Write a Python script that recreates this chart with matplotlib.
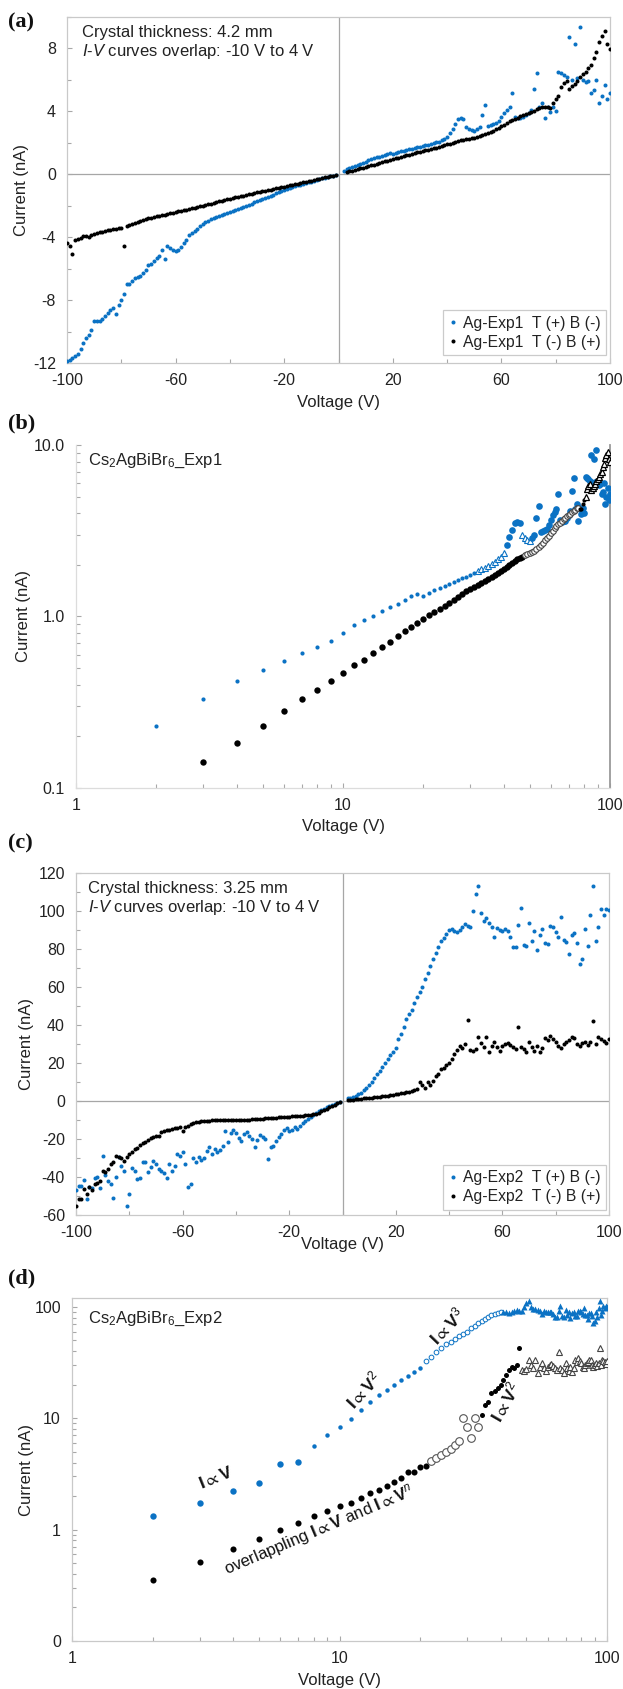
import numpy as np
import matplotlib
matplotlib.use('Agg')
import matplotlib.pyplot as plt
from matplotlib.ticker import FixedLocator, FixedFormatter, NullFormatter

plt.rcParams['font.family'] = ['Liberation Sans', 'DejaVu Sans']
plt.rcParams['mathtext.fontset'] = 'custom'
plt.rcParams['mathtext.rm'] = 'Liberation Sans'
plt.rcParams['mathtext.it'] = 'Liberation Sans:italic'
plt.rcParams['mathtext.bf'] = 'Liberation Sans:bold'
plt.rcParams['mathtext.fallback'] = 'stixsans'
plt.rcParams['axes.unicode_minus'] = False

nan = np.nan
# ---------------- data ----------------
voltage_pos = np.arange(1, 101)          # 1 ... 100 V
voltage_neg = -np.arange(1, 101)         # -1 ... -100 V

# Exp1  T(+)B(-)  (blue)
exp1_blue_pos = [nan, 0.23, 0.33, 0.42, 0.49, 0.55, 0.61, 0.66, 0.72, 0.80,
                 0.89, 0.95, 1.01, 1.07, 1.13, 1.19, 1.25, 1.32, 1.35, 1.31,
                 1.38, 1.43, 1.47, 1.51, 1.55, 1.59, 1.63, 1.67, 1.71, 1.75,
                 1.79, 1.84, 1.88, 1.93, 1.98, 2.03, 2.08, 2.15, 2.23, 2.35,
                 2.6, 2.9, 3.2, 3.5, 3.55, 3.5, 3.0, 2.85, 2.8, 2.75,
                 2.85, 3.0, 3.75, 4.38, 3.1, 3.15, 3.2, 3.25, 3.4, 3.64,
                 3.9, 4.06, 4.25, 5.19, 3.64, 3.55, 3.6, 3.62, 3.75, 3.9,
                 4.1, 5.4, 6.43, 4.25, 4.55, 3.6, 4.3, 3.95, 4.3, 4.0,
                 6.5, 6.45, 6.3, 6.2, 8.7, 6.0, 8.3, 6.1, 9.35, 5.97,
                 5.84, 5.9, 5.16, 5.33, 5.97, 4.53, 4.97, 5.65, 4.8, 5.19]
exp1_blue_neg = [-0.04, -0.08, -0.12, -0.17, -0.21, -0.26, -0.31, -0.36, -0.41, -0.46,
                 -0.51, -0.56, -0.61, -0.66, -0.71, -0.76, -0.82, -0.88, -0.94, -1.0,
                 -1.08, -1.15, -1.22, -1.29, -1.36, -1.43, -1.5, -1.58, -1.65, -1.72,
                 -1.79, -1.86, -1.93, -2.0, -2.07, -2.14, -2.21, -2.28, -2.35, -2.4,
                 -2.45, -2.52, -2.58, -2.65, -2.72, -2.8, -2.87, -2.95, -3.05, -3.15,
                 -3.3, -3.45, -3.58, -3.72, -3.85, -4.15, -4.35, -4.6, -4.8, -4.85,
                 -4.8, -4.7, -4.55, -5.4, -4.8, -5.2, -5.35, -5.5, -5.7, -5.8,
                 -6.1, -6.3, -6.45, -6.55, -6.6, -6.8, -7.0, -7.0, -7.6, -8.0,
                 -8.3, -8.9, -8.5, -8.6, -8.8, -9.0, -9.2, -9.3, -9.3, -9.3,
                 -9.9, -10.2, -10.4, -10.7, -11.1, -11.4, -11.55, -11.7, -11.8, -11.9]
# Exp1  T(-)B(+)  (black)
exp1_black_pos = [nan, nan, 0.141, 0.183, 0.229, 0.28, 0.33, 0.375, 0.42, 0.47,
                  0.52, 0.56, 0.61, 0.665, 0.71, 0.77, 0.82, 0.87, 0.92, 0.97,
                  1.02, 1.06, 1.1, 1.15, 1.2, 1.25, 1.3, 1.35, 1.4, 1.44,
                  1.48, 1.52, 1.56, 1.6, 1.65, 1.7, 1.75, 1.8, 1.85, 1.9,
                  1.95, 2.0, 2.05, 2.1, 2.15, 2.2, 2.23, 2.27, 2.3, 2.33,
                  2.37, 2.42, 2.47, 2.53, 2.6, 2.7, 2.78, 2.85, 2.95, 3.05,
                  3.15, 3.27, 3.38, 3.47, 3.53, 3.6, 3.68, 3.76, 3.84, 3.9,
                  3.97, 4.05, 4.12, 4.2, 4.27, 4.3, 4.25, 4.22, 4.5, 4.8,
                  5.0, 5.56, 5.8, 5.95, 5.45, 5.6, 5.75, 5.95, 6.2, 6.35,
                  6.5, 6.75, 6.95, 7.4, 7.8, 8.4, 8.8, 9.1, 8.3, 7.96]
exp1_black_neg = [-0.04, -0.08, -0.12, -0.16, -0.2, -0.24, -0.28, -0.32, -0.36, -0.4,
                  -0.44, -0.48, -0.51, -0.55, -0.59, -0.63, -0.67, -0.7, -0.74, -0.78,
                  -0.82, -0.86, -0.89, -0.93, -0.97, -1.0, -1.04, -1.08, -1.12, -1.15,
                  -1.19, -1.23, -1.27, -1.31, -1.35, -1.39, -1.43, -1.47, -1.51, -1.55,
                  -1.6, -1.64, -1.69, -1.73, -1.78, -1.82, -1.87, -1.91, -1.96, -2.0,
                  -2.04, -2.08, -2.12, -2.16, -2.2, -2.24, -2.28, -2.32, -2.36, -2.4,
                  -2.44, -2.48, -2.52, -2.56, -2.6, -2.64, -2.68, -2.72, -2.76, -2.8,
                  -2.86, -2.92, -2.98, -3.04, -3.1, -3.16, -3.22, -3.28, -4.55, -3.4,
                  -3.42, -3.45, -3.48, -3.52, -3.55, -3.6, -3.65, -3.7, -3.75, -3.8,
                  -3.85, -4.0, -3.9, -3.95, -4.05, -4.1, -4.15, -5.05, -4.55, -4.35]

# Exp2  T(+)B(-)  (blue)
exp2_blue_pos = [nan, 1.32, 1.75, 2.21, 2.6, 3.85, 4.07, 5.67, 7.08, 8.4,
                 9.9, 11.9, 14.0, 16.0, 17.8, 20.0, 22.0, 24.0, 26.0, 28.0,
                 32.5, 35.5, 39.0, 43.0, 46.0, 48.0, 51.5, 55.0, 57.5, 60.0,
                 64.0, 67.5, 71.0, 75.0, 78.0, 81.0, 84.0, 86.0, 88.0, 90.0,
                 90.5, 89.5, 88.8, 90.0, 91.5, 93.0, 92.0, 91.5, 100.0, 108.8,
                 113.0, 99.0, 95.0, 96.5, 93.8, 91.7, 86.1, 91.0, 90.0, 89.5,
                 90.5, 89.5, 86.1, 81.1, 81.0, 92.6, 101.8, 82.0, 81.5, 93.8,
                 84.3, 89.6, 79.7, 87.3, 90.5, 83.0, 82.5, 92.1, 91.5, 89.1,
                 86.1, 97.0, 84.7, 83.8, 77.2, 87.3, 88.4, 82.9, 72.3, 74.6,
                 90.3, 81.5, 97.9, 113.2, 84.1, 91.4, 101.0, 97.9, 101.0, 100.5]
exp2_blue_neg = [-0.5, -1.0, -1.5, -2.1, -2.7, -3.3, -4.0, -4.7, -5.5, -6.3,
                 -7.2, -8.3, -9.5, -10.5, -11.5, -13.0, -14.5, -13.5, -15.5, -16.0,
                 -14.0, -15.5, -17.5, -19.0, -21.0, -23.5, -24.0, -30.5, -20.0, -19.0,
                 -18.0, -20.5, -24.0, -20.0, -18.5, -16.5, -17.5, -21.0, -19.5, -17.0,
                 -15.5, -17.0, -21.5, -16.0, -23.5, -26.0, -27.0, -25.0, -28.0, -24.0,
                 -26.5, -30.0, -31.0, -29.5, -32.0, -30.0, -43.5, -45.5, -33.0, -27.0,
                 -29.0, -28.0, -34.0, -37.0, -33.0, -40.5, -38.0, -37.0, -36.0, -33.0,
                 -31.5, -34.5, -37.5, -32.0, -32.0, -40.5, -41.0, -37.0, -35.0, -49.0,
                 -55.0, -37.0, -34.0, -29.5, -40.0, -51.0, -43.5, -42.0, -39.0, -29.0,
                 -46.0, -40.0, -40.5, -46.0, -45.0, -51.5, -41.5, -44.5, -44.5, -47.0]
# Exp2  T(-)B(+)  (black)
exp2_black_pos = [nan, 0.35, 0.51, 0.675, 0.83, 1.0, 1.156, 1.33, 1.46, 1.62,
                  1.75, 1.93, 2.11, 2.29, 2.47, 2.69, 2.88, 3.3, 3.26, 3.67,
                  3.72, 4.1, 4.4, 4.7, 5.0, 5.3, 5.7, 6.3, 10.0, 8.4,
                  6.6, 10.0, 8.4, 10.7, 13.2, 14.1, 16.8, 17.5, 18.7, 20.0,
                  22.0, 24.6, 27.0, 29.0, 28.0, 30.0, 42.5, 27.0, 26.5, 27.5,
                  33.5, 30.3, 28.5, 33.5, 25.6, 29.1, 31.0, 28.2, 26.5, 29.1,
                  30.0, 30.5, 29.5, 28.2, 27.3, 39.2, 28.2, 27.3, 25.6, 31.0,
                  28.2, 26.5, 29.0, 26.0, 28.0, 33.0, 32.0, 34.4, 32.7, 31.0,
                  29.0, 28.0, 30.0, 31.0, 32.0, 33.6, 33.0, 30.0, 29.0, 30.3,
                  31.0, 29.5, 31.0, 42.3, 29.8, 33.5, 32.7, 31.7, 30.5, 32.7]
exp2_black_neg = [-0.6, -1.2, -1.9, -2.6, -3.3, -4.0, -4.8, -5.5, -6.2, -6.7,
                  -7.0, -7.3, -7.5, -7.6, -7.7, -7.8, -7.9, -8.0, -8.1, -8.2,
                  -8.3, -8.4, -8.5, -8.6, -8.7, -8.8, -9.0, -9.1, -9.2, -9.3,
                  -9.5, -9.6, -9.6, -9.7, -9.8, -9.8, -9.9, -10.0, -10.0, -10.0,
                  -10.0, -10.0, -10.0, -10.0, -10.0, -10.1, -10.1, -10.2, -10.2, -10.3,
                  -10.4, -10.5, -10.7, -11.0, -11.2, -11.6, -12.0, -13.0, -13.5, -15.6,
                  -13.5, -14.0, -14.4, -14.7, -15.0, -15.2, -15.6, -16.5, -18.2, -18.5,
                  -19.0, -19.5, -20.5, -21.8, -22.3, -23.0, -24.5, -25.3, -27.0, -28.0,
                  -29.6, -31.4, -30.0, -29.6, -28.8, -32.3, -33.2, -36.0, -37.5, -36.7,
                  -42.0, -43.0, -43.7, -47.0, -45.4, -49.0, -46.5, -51.6, -51.6, -55.0]

legend_exp1 = ['Ag-Exp1  T (+) B (-)', 'Ag-Exp1  T (-) B (+)']
legend_exp2 = ['Ag-Exp2  T (+) B (-)', 'Ag-Exp2  T (-) B (+)']
lin_xticks = [-100, -60, -20, 20, 60, 100]
lin_xminor = [-80, -40, 0, 40, 80]

BLUE = '#0b72c4'
BLACK = '#000000'
FRAME = '#c9c9c9'
TXT = '#222222'
TICK_FS = 11.5
LAB_FS = 12
ANN_FS = 12

W, H = 623, 1689
fig = plt.figure(figsize=(W / 100, H / 100), dpi=100)


def add_ax(l, t, r, b):
    return fig.add_axes([l / W, 1 - b / H, (r - l) / W, (b - t) / H])


def style(ax, frame_color=FRAME):
    for s in ax.spines.values():
        s.set_color(frame_color)
        s.set_linewidth(0.9)
    ax.tick_params(which='both', direction='in', color='#a8a8a8', width=0.8,
                   labelsize=TICK_FS, labelcolor=TXT)
    ax.tick_params(which='major', length=3.5)
    ax.tick_params(which='minor', length=3.0)
    ax.tick_params(axis='y', which='both', pad=8)
    ax.tick_params(axis='x', which='both', pad=7)


def labels(ax, t, b, l, xlab_px, ylab_px):
    ax.set_xlabel('Voltage (V)', fontsize=LAB_FS, color=TXT)
    ax.set_ylabel('Current (nA)', fontsize=LAB_FS, color=TXT)
    h = b - t
    ax.xaxis.label.set_va('center')
    ax.yaxis.label.set_va('center')
    wpx = ax.get_position().width * W
    ax.xaxis.set_label_coords(0.5, -(xlab_px - b) / h)
    ax.yaxis.set_label_coords(-(l - ylab_px) / wpx, 0.5)


def panel_label(txt, y_px):
    fig.text(8 / W, 1 - y_px / H, txt, family=['Liberation Serif'], weight='bold',
             fontsize=16, ha='left', va='center', color='#111111')


def add_legend(ax, anchor):
    lg = ax.legend(loc='lower right', bbox_to_anchor=anchor, borderaxespad=0,
                   fontsize=11.3, frameon=True, fancybox=False, handlelength=0.5,
                   handletextpad=0.4, borderpad=0.35, labelspacing=0.25)
    lg.get_frame().set_edgecolor('#bfbfbf')
    lg.get_frame().set_linewidth(0.9)
    for t in lg.get_texts():
        t.set_color(TXT)


# ---------------- (a) ----------------
ax = add_ax(67, 17, 610, 363)
ax.axhline(0, color='#a6a6a6', lw=0.9, zorder=1)
ax.axvline(0, color='#a6a6a6', lw=0.9, zorder=1)
ax.plot(np.r_[voltage_neg, voltage_pos], np.r_[exp1_blue_neg, exp1_blue_pos], 'o',
        ms=2.9, color=BLUE, mec='none', label=legend_exp1[0], zorder=3)
ax.plot(np.r_[voltage_neg, voltage_pos], np.r_[exp1_black_neg, exp1_black_pos], 'o',
        ms=2.9, color=BLACK, mec='none', label=legend_exp1[1], zorder=4)
ax.set_xlim(-100, 100)
ax.set_ylim(-12, 10)
ax.xaxis.set_major_locator(FixedLocator(lin_xticks))
ax.xaxis.set_minor_locator(FixedLocator(lin_xminor))
ax.yaxis.set_major_locator(FixedLocator([-12, -8, -4, 0, 4, 8]))
ax.yaxis.set_minor_locator(FixedLocator([-10, -6, -2, 2, 6, 10]))
style(ax)
labels(ax, 17, 363, 67, 403, 22)
ax.text(0.027, 0.955, 'Crystal thickness: 4.2 mm', transform=ax.transAxes,
        fontsize=ANN_FS, color=TXT, va='center')
ax.text(0.027, 0.90, r'$\mathit{I}$-$\mathit{V}$ curves overlap: -10 V to 4 V',
        transform=ax.transAxes, fontsize=ANN_FS, color=TXT, va='center')
add_legend(ax, (0.993, 0.022))
panel_label('(a)', 22)

# ---------------- (b) ----------------
vp = voltage_pos
ax = add_ax(76, 445, 610, 788)
ax.set_xscale('log')
ax.set_yscale('log')
bp = np.array(exp1_blue_pos)
kp = np.array(exp1_black_pos)
m_small = (vp <= 31)
m_hol = ((vp >= 32) & (vp <= 40)) | ((vp >= 47) & (vp <= 50))
m_big = ((vp >= 41) & (vp <= 46)) | (vp >= 51)
ax.plot(vp[m_small], bp[m_small], 'o', ms=3.0, color=BLUE, mec='none', zorder=3)
ax.plot(vp[m_hol], bp[m_hol], '^', ms=4.0, mfc='white', mec=BLUE, mew=0.8, zorder=3)
ax.plot(vp[m_big], bp[m_big], 'o', ms=4.8, color=BLUE, mec='none', zorder=3)
k1 = (vp <= 47)
k2 = (vp >= 48) & (vp <= 76)
k3 = (vp >= 77) & (vp <= 80)
k4 = (vp >= 81)
ax.plot(vp[k1], kp[k1], 'o', ms=4.6, color=BLACK, mec='none', zorder=4)
ax.plot(vp[k2], kp[k2], 'o', ms=4.0, mfc='white', mec='#444444', mew=0.8, zorder=4)
ax.plot(vp[k3], kp[k3], 'o', ms=3.0, color=BLACK, mec='none', zorder=4)
ax.plot(vp[k4], kp[k4], '^', ms=4.0, mfc='white', mec=BLACK, mew=0.9, zorder=4)
ax.set_xlim(1, 100)
ax.set_ylim(0.1, 10)
ax.xaxis.set_major_locator(FixedLocator([1, 10, 100]))
ax.xaxis.set_major_formatter(FixedFormatter(['1', '10', '100']))
ax.yaxis.set_major_locator(FixedLocator([0.1, 1, 10]))
ax.yaxis.set_major_formatter(FixedFormatter(['0.1', '1.0', '10.0']))
mins = [m * d for d in (1, 10) for m in range(2, 10)]
ax.xaxis.set_minor_locator(FixedLocator(mins))
ax.yaxis.set_minor_locator(FixedLocator([m * d for d in (0.1, 1) for m in range(2, 10)]))
ax.xaxis.set_minor_formatter(NullFormatter())
ax.yaxis.set_minor_formatter(NullFormatter())
style(ax, '#dcdcdc')
ax.spines['top'].set_visible(False)
ax.spines['right'].set_color('#9a9a9a')
ax.spines['right'].set_linewidth(1.3)
labels(ax, 445, 788, 76, 827, 24)
ax.text(0.023, 0.955, r'Cs$_2$AgBiBr$_6$_Exp1', transform=ax.transAxes,
        fontsize=ANN_FS, color=TXT, va='center')
panel_label('(b)', 423)

# ---------------- (c) ----------------
ax = add_ax(76, 873, 609, 1215)
ax.axhline(0, color='#a6a6a6', lw=0.9, zorder=1)
ax.axvline(0, color='#a6a6a6', lw=0.9, zorder=1)
ax.plot(np.r_[voltage_neg, voltage_pos], np.r_[exp2_blue_neg, exp2_blue_pos], 'o',
        ms=2.9, color=BLUE, mec='none', label=legend_exp2[0], zorder=3)
ax.plot(np.r_[voltage_neg, voltage_pos], np.r_[exp2_black_neg, exp2_black_pos], 'o',
        ms=2.9, color=BLACK, mec='none', label=legend_exp2[1], zorder=4)
ax.set_xlim(-100, 100)
ax.set_ylim(-60, 120)
ax.xaxis.set_major_locator(FixedLocator(lin_xticks))
ax.xaxis.set_minor_locator(FixedLocator(lin_xminor))
ax.yaxis.set_major_locator(FixedLocator(list(range(-60, 121, 20))))
ax.yaxis.set_minor_locator(FixedLocator(list(range(-50, 120, 20))))
style(ax)
labels(ax, 873, 1215, 76, 1245, 26)
ax.text(0.023, 0.955, 'Crystal thickness: 3.25 mm', transform=ax.transAxes,
        fontsize=ANN_FS, color=TXT, va='center')
ax.text(0.023, 0.90, r'$\mathit{I}$-$\mathit{V}$ curves overlap: -10 V to 4 V',
        transform=ax.transAxes, fontsize=ANN_FS, color=TXT, va='center')
add_legend(ax, (0.994, 0.015))
panel_label('(c)', 843)

# ---------------- (d) ----------------
ax = add_ax(72, 1298, 607, 1641)
ax.set_xscale('log')
ax.set_yscale('log')
bp = np.array(exp2_blue_pos)
kp = np.array(exp2_black_pos)
b1 = (vp <= 7)
b2 = (vp >= 8) & (vp <= 20)
b3 = (vp >= 21) & (vp <= 40)
b4 = (vp >= 41)
ax.plot(vp[b1], bp[b1], 'o', ms=4.6, color=BLUE, mec='none', zorder=3)
ax.plot(vp[b2], bp[b2], 'o', ms=3.2, color=BLUE, mec='none', zorder=3)
ax.plot(vp[b3], bp[b3], 'o', ms=3.4, mfc='white', mec=BLUE, mew=0.7, zorder=3)
ax.plot(vp[b4], bp[b4], '^', ms=3.8, color=BLUE, mec='none', zorder=3)
c1 = (vp <= 21)
c2 = (vp >= 22) & (vp <= 33)
c3 = (vp >= 34) & (vp <= 47)
c4 = (vp >= 48)
ax.plot(vp[c1], kp[c1], 'o', ms=4.4, color=BLACK, mec='none', zorder=4)
ax.plot(vp[c2], kp[c2], 'o', ms=5.5, mfc='white', mec='#555555', mew=0.8, zorder=4)
ax.plot(vp[c3], kp[c3], 'o', ms=3.6, color=BLACK, mec='none', zorder=4)
ax.plot(vp[c4], kp[c4], '^', ms=5.0, mfc='white', mec='#444444', mew=0.8, zorder=4)
ax.set_xlim(1, 100)
ax.set_ylim(0.1, 120)
ax.xaxis.set_major_locator(FixedLocator([1, 10, 100]))
ax.xaxis.set_major_formatter(FixedFormatter(['1', '10', '100']))
ax.yaxis.set_major_locator(FixedLocator([0.1, 1, 10, 100]))
ax.yaxis.set_major_formatter(FixedFormatter(['0', '1', '10', '100']))
ax.xaxis.set_minor_locator(FixedLocator(mins))
ax.yaxis.set_minor_locator(FixedLocator([m * d for d in (0.1, 1, 10) for m in range(2, 10)]))
ax.xaxis.set_minor_formatter(NullFormatter())
ax.yaxis.set_minor_formatter(NullFormatter())
style(ax)
labels(ax, 1298, 1641, 72, 1680, 26)
ax.text(0.03, 0.94, r'Cs$_2$AgBiBr$_6$_Exp2', transform=ax.transAxes,
        fontsize=ANN_FS, color=TXT, va='center')
ann = dict(fontsize=12.5, color='#111111', ha='center', va='center', rotation_mode='anchor')
ax.text(3.45, 2.95, r'$\mathbf{I}\propto\mathbf{V}$', rotation=22, **ann)
ax.text(12.3, 18, r'$\mathbf{I}\propto\mathbf{V}^2$', rotation=47, **ann)
ax.text(25.3, 67, r'$\mathbf{I}\propto\mathbf{V}^3$', rotation=46, **ann)
ax.text(41.6, 14.1, r'$\mathbf{I}\propto\mathbf{V}^2$', rotation=60, **ann)
ax.text(8.4, 0.98, r'overlappling $\mathbf{I}\propto\mathbf{V}$ and $\mathbf{I}\propto\mathbf{V}^n$',
        rotation=23, **dict(ann, fontsize=12))
panel_label('(d)', 1278)

fig.savefig('out.png', dpi=100)
